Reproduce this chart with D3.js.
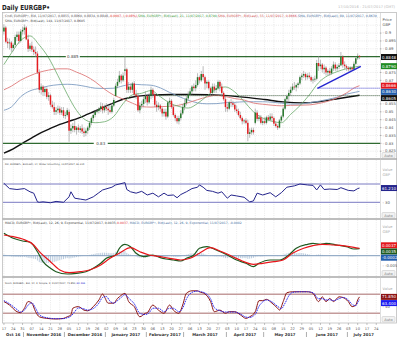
<!DOCTYPE html>
<html>
<head>
<meta charset="utf-8">
<script src="https://cdn.jsdelivr.net/npm/d3@7"></script>
<style>
  body { margin: 0; background: #fff; }
  svg { display: block; font-family: "DejaVu Sans", "Liberation Sans", sans-serif; }
</style>
</head>
<body>
<svg id="chart" width="397" height="341"></svg>
<script>
// ---------- Daily EURGBP candles, 17 Oct 2016 – 11 Jul 2017 (one entry per trading day) ----------
const opens = [
0.9010,0.9035,0.8945,0.8935,0.8940, 0.8905,0.8925,0.8975,0.8990,0.8950, 0.9010,0.9020,0.9035,0.8960,0.8900,
0.8920,0.8895,0.8880,0.8870,0.8750, 0.8640,0.8660,0.8625,0.8645,0.8595, 0.8605,0.8545,0.8530,0.8500,0.8510,
0.8520,0.8495,0.8510,0.8475,0.8480, 0.8500,0.8380,0.8395,0.8410,0.8385, 0.8400,0.8385,0.8395,0.8375,0.8365,
0.8380,0.8400,0.8430,0.8460,0.8480, 0.8500,0.8505,0.8520,0.8535,0.8510, 0.8530,0.8520,0.8510,0.8500,0.8540,
0.8600,0.8665,0.8690,0.8730,0.8700, 0.8760,0.8770,0.8640,0.8660,0.8640, 0.8680,0.8610,0.8600,0.8510,0.8540,
0.8550,0.8580,0.8600,0.8560,0.8600, 0.8640,0.8610,0.8545,0.8530,0.8540, 0.8520,0.8490,0.8500,0.8470,0.8560,
0.8570,0.8530,0.8480,0.8460,0.8440, 0.8460,0.8490,0.8530,0.8555,0.8585, 0.8610,0.8630,0.8660,0.8650,0.8670,
0.8720,0.8700,0.8740,0.8720,0.8680, 0.8690,0.8650,0.8620,0.8660,0.8640, 0.8650,0.8690,0.8660,0.8620,0.8580,
0.8530,0.8520,0.8560,0.8555,0.8545, 0.8515,0.8505,0.8480,0.8460,0.8440, 0.8445,0.8430,0.8360,0.8370,0.8385,
0.8430,0.8495,0.8455,0.8465,0.8430, 0.8440,0.8430,0.8465,0.8450,0.8470, 0.8460,0.8425,0.8410,0.8400,0.8445,
0.8470,0.8520,0.8580,0.8600,0.8620, 0.8640,0.8660,0.8655,0.8670,0.8680, 0.8720,0.8730,0.8740,0.8720,0.8730,
0.8720,0.8700,0.8705,0.8710,0.8810, 0.8790,0.8800,0.8770,0.8780,0.8750, 0.8760,0.8745,0.8775,0.8800,0.8775,
0.8785,0.8795,0.8850,0.8800,0.8790, 0.8780,0.8770,0.8780,0.8770,0.8805, 0.8840,0.8855
];
const highs = [
0.9055,0.9045,0.8970,0.8965,0.8950, 0.8935,0.8990,0.9010,0.9010,0.9025, 0.9040,0.9055,0.9045,0.8990,0.8935,
0.8945,0.8915,0.8915,0.8885,0.8770, 0.8680,0.8670,0.8660,0.8655,0.8625, 0.8615,0.8570,0.8560,0.8530,0.8540,
0.8535,0.8530,0.8530,0.8500,0.8525, 0.8515,0.8420,0.8430,0.8450,0.8410, 0.8420,0.8410,0.8420,0.8400,0.8395,
0.8410,0.8440,0.8470,0.8490,0.8510, 0.8515,0.8530,0.8560,0.8555,0.8545, 0.8555,0.8545,0.8540,0.8555,0.8590,
0.8680,0.8710,0.8760,0.8740,0.8750, 0.8854,0.8780,0.8690,0.8680,0.8690, 0.8695,0.8640,0.8620,0.8560,0.8570,
0.8600,0.8630,0.8610,0.8620,0.8660, 0.8650,0.8620,0.8570,0.8560,0.8550, 0.8530,0.8520,0.8520,0.8570,0.8590,
0.8580,0.8545,0.8490,0.8475,0.8475, 0.8510,0.8550,0.8580,0.8600,0.8630, 0.8650,0.8670,0.8680,0.8700,0.8745,
0.8730,0.8760,0.8790,0.8730,0.8700, 0.8700,0.8660,0.8680,0.8680,0.8670, 0.8700,0.8700,0.8680,0.8630,0.8600,
0.8550,0.8570,0.8580,0.8570,0.8560, 0.8540,0.8520,0.8500,0.8470,0.8455, 0.8460,0.8450,0.8395,0.8400,0.8400,
0.8520,0.8510,0.8480,0.8480,0.8460, 0.8465,0.8475,0.8480,0.8490,0.8490, 0.8470,0.8440,0.8420,0.8455,0.8480,
0.8530,0.8590,0.8610,0.8640,0.8660, 0.8680,0.8690,0.8680,0.8690,0.8730, 0.8745,0.8760,0.8750,0.8745,0.8750,
0.8730,0.8720,0.8730,0.8830,0.8855, 0.8830,0.8810,0.8800,0.8790,0.8770, 0.8780,0.8790,0.8820,0.8815,0.8800,
0.8810,0.8880,0.8860,0.8820,0.8800, 0.8790,0.8790,0.8790,0.8820,0.8850, 0.8870,0.8860
];
const lows = [
0.8990,0.8935,0.8905,0.8895,0.8880, 0.8885,0.8910,0.8950,0.8930,0.8940, 0.8990,0.8990,0.8955,0.8880,0.8885,
0.8880,0.8860,0.8850,0.8740,0.8620, 0.8610,0.8600,0.8600,0.8580,0.8570, 0.8530,0.8520,0.8480,0.8480,0.8490,
0.8480,0.8480,0.8460,0.8455,0.8470, 0.8310,0.8360,0.8370,0.8370,0.8355, 0.8370,0.8365,0.8360,0.8340,0.8345,
0.8360,0.8385,0.8415,0.8440,0.8465, 0.8490,0.8490,0.8500,0.8490,0.8495, 0.8505,0.8480,0.8490,0.8490,0.8530,
0.8600,0.8650,0.8680,0.8680,0.8690, 0.8730,0.8620,0.8620,0.8620,0.8620, 0.8600,0.8580,0.8500,0.8490,0.8520,
0.8530,0.8555,0.8540,0.8550,0.8580, 0.8590,0.8530,0.8500,0.8510,0.8500, 0.8470,0.8470,0.8450,0.8460,0.8540,
0.8520,0.8470,0.8440,0.8425,0.8420, 0.8445,0.8480,0.8510,0.8540,0.8570, 0.8600,0.8610,0.8630,0.8630,0.8660,
0.8680,0.8690,0.8700,0.8640,0.8650, 0.8640,0.8600,0.8610,0.8620,0.8620, 0.8640,0.8630,0.8600,0.8570,0.8500,
0.8500,0.8510,0.8530,0.8530,0.8500, 0.8490,0.8470,0.8450,0.8420,0.8425, 0.8420,0.8313,0.8335,0.8355,0.8355,
0.8420,0.8440,0.8440,0.8420,0.8415, 0.8420,0.8420,0.8440,0.8440,0.8440, 0.8410,0.8400,0.8385,0.8395,0.8435,
0.8460,0.8510,0.8560,0.8570,0.8600, 0.8630,0.8640,0.8630,0.8650,0.8670, 0.8700,0.8715,0.8700,0.8705,0.8710,
0.8690,0.8680,0.8690,0.8700,0.8760, 0.8770,0.8750,0.8740,0.8730,0.8730, 0.8730,0.8735,0.8760,0.8760,0.8760,
0.8770,0.8790,0.8780,0.8770,0.8760, 0.8755,0.8755,0.8760,0.8765,0.8795, 0.8830,0.8834
];
const closes = [
0.9035,0.8945,0.8935,0.8940,0.8905, 0.8925,0.8975,0.8990,0.8950,0.9010, 0.9020,0.9035,0.8960,0.8900,0.8920,
0.8895,0.8880,0.8870,0.8750,0.8640, 0.8660,0.8625,0.8645,0.8595,0.8605, 0.8545,0.8530,0.8500,0.8510,0.8520,
0.8495,0.8510,0.8475,0.8480,0.8510, 0.8380,0.8395,0.8410,0.8385,0.8400, 0.8385,0.8395,0.8375,0.8365,0.8380,
0.8400,0.8430,0.8460,0.8480,0.8500, 0.8505,0.8520,0.8535,0.8510,0.8530, 0.8520,0.8510,0.8500,0.8540,0.8575,
0.8665,0.8690,0.8730,0.8700,0.8730, 0.8770,0.8640,0.8660,0.8640,0.8680, 0.8610,0.8600,0.8510,0.8540,0.8550,
0.8580,0.8600,0.8560,0.8600,0.8640, 0.8610,0.8545,0.8530,0.8540,0.8520, 0.8490,0.8500,0.8470,0.8560,0.8570,
0.8530,0.8480,0.8460,0.8440,0.8460, 0.8490,0.8530,0.8555,0.8585,0.8610, 0.8630,0.8660,0.8650,0.8670,0.8720,
0.8700,0.8740,0.8720,0.8680,0.8690, 0.8650,0.8620,0.8660,0.8640,0.8650, 0.8690,0.8660,0.8620,0.8580,0.8530,
0.8520,0.8560,0.8555,0.8545,0.8515, 0.8505,0.8480,0.8460,0.8440,0.8445, 0.8430,0.8360,0.8370,0.8385,0.8370,
0.8495,0.8455,0.8465,0.8430,0.8440, 0.8430,0.8465,0.8450,0.8470,0.8460, 0.8425,0.8410,0.8400,0.8445,0.8470,
0.8520,0.8580,0.8600,0.8620,0.8640, 0.8660,0.8655,0.8670,0.8680,0.8720, 0.8730,0.8740,0.8720,0.8730,0.8720,
0.8700,0.8705,0.8710,0.8810,0.8790, 0.8800,0.8770,0.8780,0.8750,0.8760, 0.8745,0.8775,0.8800,0.8775,0.8785,
0.8795,0.8850,0.8800,0.8790,0.8780, 0.8770,0.8780,0.8770,0.8805,0.8840, 0.8855,0.8848
];

// ---------- Moving averages, [trading-day index, value] ----------
const sma21 = [[0,.8800],[4,.8873],[9,.8953],[14,.8982],[19,.8924],[24,.8843],[29,.8730],[34,.8612],[39,.8509],[44,.8447],[49,.8431],[54,.8437],[59,.8471],[64,.8552],[69,.8608],[74,.8618],[79,.8635],[84,.8596],[89,.8556],[94,.8534],[99,.8524],[104,.8553],[109,.8600],[114,.8643],[119,.8658],[124,.8626],[129,.8566],[134,.8501],[139,.8461],[144,.8440],[149,.8431],[154,.8484],[159,.8539],[164,.8607],[169,.8685],[174,.8730],[179,.8755],[184,.8774],[189,.8786],[191,.8790]];
const sma55 = [[0,.8640],[4,.8663],[9,.8701],[14,.8729],[19,.8751],[24,.8765],[29,.8773],[34,.8773],[39,.8752],[44,.8727],[49,.8691],[54,.8644],[59,.8606],[64,.8581],[69,.8555],[74,.8533],[79,.8530],[84,.8533],[89,.8535],[94,.8542],[99,.8558],[104,.8577],[109,.8594],[114,.8605],[119,.8597],[124,.8584],[129,.8575],[134,.8556],[139,.8548],[144,.8542],[149,.8538],[154,.8541],[159,.8542],[164,.8544],[169,.8553],[174,.8567],[179,.8589],[184,.8620],[189,.8657],[191,.8666]];
const sma89 = [[0,.8510],[4,.8531],[9,.8596],[14,.8633],[19,.8649],[24,.8664],[29,.8672],[34,.8675],[39,.8671],[44,.8661],[49,.8650],[54,.8648],[59,.8650],[64,.8665],[69,.8675],[74,.8672],[79,.8669],[84,.8652],[89,.8623],[94,.8597],[99,.8574],[104,.8557],[109,.8551],[114,.8552],[119,.8558],[124,.8560],[129,.8564],[134,.8564],[139,.8564],[144,.8561],[149,.8555],[154,.8549],[159,.8549],[164,.8558],[169,.8567],[174,.8579],[179,.8593],[184,.8612],[189,.8625],[191,.8630]];
const sma144 = [[0,.8238],[5,.8265],[10,.8300],[15,.8335],[20,.8368],[25,.8395],[30,.8420],[35,.8440],[40,.8460],[45,.8485],[50,.8510],[55,.8538],[60,.8562],[65,.8583],[70,.8596],[75,.8603],[80,.8607],[90,.8610],[100,.8610],[110,.8608],[120,.8603],[130,.8592],[140,.8578],[150,.8563],[160,.8557],[170,.8565],[180,.8585],[191,.8605]];

// ---------- Drawn levels ----------
const levels = [{price: 0.885, label: "0.885", labelAt: 37}, {price: 0.83, label: "0.83", labelAt: 52}];
const trendLine = [[168.4, 0.8649], [191.7, 0.8788]];
const dottedLevels = [{from: 168.4, price: 0.865, color: "#3f3fd8"}, {from: 82, price: 0.8603, color: "#2f4f2f"}];

// ---------- RSI(14) ----------
const rsi = [[0,71.5],[3,60],[7,58],[11,60],[14,53],[16,50],[18,31],[19,30],[21,31],[25,29],[28,32],[32,30],[35,42],[36,53],[38,39],[41,37],[44,35],[48,42],[51,51],[53,57],[58,63],[60,68],[65,73],[66,58],[68,53],[71,50],[74,54],[77,46],[80,50],[83,42],[86,50],[88,45],[91,46],[93,40],[95,47],[98,53],[101,60],[104,63],[105,68],[107,63],[109,56],[112,54],[115,50],[117,53],[120,39],[122,46],[125,44],[129,41],[132,31],[134,33],[136,50],[139,46],[143,51],[146,42],[149,51],[152,63],[156,66],[159,70],[163,68],[166,67],[168,57],[170,68],[172,58],[175,59],[179,58],[181,62],[185,56],[188,55],[190,60],[191,61.21]];
const rsiLevels = [70, 30];

// ---------- MACD(12,26,9) ----------
const macdLine = [[0,.0112],[5,.0087],[10,.00735],[14,.0067],[18,.002],[21,-.003],[25,-.0063],[28,-.008],[34,-.00915],[39,-.0088],[44,-.008],[48,-.0063],[52,-.0038],[55,-.0013],[60,.00035],[62,.0037],[65,.0057],[68,.0045],[71,.0012],[75,-.0005],[80,.00035],[84,-.001],[87,-.00165],[91,-.00215],[95,-.00265],[98,-.0013],[102,.00035],[105,.0037],[109,.0045],[114,.00285],[120,.00035],[125,-.00215],[130,-.0038],[134,-.0055],[137,-.0038],[143,-.00215],[148,-.00215],[153,.00035],[157,.0037],[163,.0057],[166,.0062],[170,.0057],[173,.0062],[179,.00535],[184,.0045],[188,.00335],[191,.0035]];
const signalLine = [[0,.01035],[5,.0095],[10,.00835],[16,.00535],[19,.002],[25,-.003],[30,-.00715],[35,-.0085],[41,-.008],[46,-.00715],[52,-.00465],[57,-.0013],[62,.0012],[68,.004],[73,.002],[78,.00035],[84,-.0005],[89,-.0013],[95,-.00215],[100,-.0013],[105,.0012],[111,.004],[116,.00235],[123,-.0005],[128,-.00265],[134,-.0043],[139,-.0038],[145,-.003],[150,-.00215],[155,.0012],[161,.0037],[166,.005],[171,.0057],[177,.00535],[182,.005],[188,.0042],[191,.0037]];
// histogram, one bar per trading day, in units of 0.0001
const macdHist = [
6,4,1,-2,-4, -5,-6,-6,-7,-7, -6,-6,-8,-11,-12, -13,-15,-17,-24,-32, -35,-36,-36,-37,-36, -35,-33,-31,-28,-25,
-22,-19,-17,-14,-12, -14,-13,-11,-9,-7, -5,-3,-2,-1,0, 2,4,6,8,10, 12,13,14,15,15, 15,14,13,13,14,
17,19,21,22,22, 23,14,9,5,3, -1,-4,-9,-10,-10, -9,-8,-8,-6,-4, -4,-6,-7,-7,-7, -8,-8,-8,-4,-2,
-3,-5,-6,-7,-6, -4,-1,2,5,8, 10,12,12,12,14, 13,13,11,6,4, 1,-2,-2,-3,-4, -3,-4,-6,-9,-12,
-12,-10,-9,-8,-9, -10,-11,-12,-13,-12, -12,-16,-15,-13,-11, -5,-4,-3,-4,-3, -2,-1,0,1,1, 0,-1,-2,0,2,
5,9,12,14,15, 15,14,13,13,14, 13,12,10,8,6, 4,2,1,5,6, 6,4,3,1,0, -1,0,1,0,0,
0,3,2,0,-1, -3,-4,-5,-4,-3, -2,-2
];

// ---------- Stochastic(14,3,3) ----------
const stochK = [[0,57],[3,46],[7,25],[9,22],[11,36],[13,57],[15,52],[17,25],[19,9],[23,4],[28,2],[32,4],[34,9],[36,15],[37,36],[40,41],[43,30],[45,28],[48,41],[51,62],[53,81],[54,72],[56,52],[59,52],[61,67],[62,72],[65,83],[67,57],[70,41],[73,9],[76,20],[77,22],[80,46],[83,30],[86,20],[89,46],[91,30],[94,20],[96,46],[98,83],[101,91],[104,91],[105,88],[108,81],[111,57],[113,25],[116,30],[119,20],[121,25],[124,25],[127,15],[130,4],[132,9],[135,25],[137,60],[139,60],[141,64],[144,52],[147,36],[148,30],[150,57],[152,85],[155,88],[159,88],[163,88],[166,83],[169,57],[171,72],[173,57],[175,67],[177,57],[180,72],[182,70],[185,57],[187,41],[189,46],[190,62],[191,71.85]];
const stochD = [[0,60],[3,50],[7,32],[9,24],[11,30],[13,46],[15,53],[17,36],[19,15],[23,6],[28,3],[32,3],[34,6],[36,11],[38,25],[40,37],[43,34],[45,30],[48,35],[51,52],[53,70],[55,73],[57,58],[59,52],[61,60],[63,70],[65,79],[67,68],[70,50],[73,20],[76,16],[78,22],[80,36],[83,36],[86,25],[89,36],[91,36],[94,25],[96,36],[98,65],[101,86],[104,90],[106,88],[108,84],[111,66],[113,38],[116,28],[119,24],[121,24],[124,24],[127,18],[130,8],[132,7],[135,17],[137,42],[139,56],[141,62],[144,56],[147,42],[149,35],[151,52],[153,75],[155,86],[159,88],[163,88],[166,85],[169,66],[171,66],[173,62],[175,63],[177,60],[180,66],[182,70],[185,62],[187,48],[189,44],[190,54],[191,63.4]];
const stochLevels = [80, 20];

// ---------- Axis labels ----------
const dayTicks = ["17","24","31","07","14","21","28","05","12","19","26","02","09","16","23","30","06","13","20","27","06","13","20","27","03","10","17","24","01","08","15","22","29","05","12","19","26","03","10","17","24"];
const monthNames = ["Oct 16","November 2016","December 2016","January 2017","February 2017","March 2017","April 2017","May 2017","June 2017","July 2017"];
const monthStarts = [0, 11, 33, 55, 77, 97, 120, 140, 163, 185];
const priceTicks = [0.9, 0.895, 0.89, 0.875, 0.87, 0.855, 0.85, 0.845, 0.84, 0.835, 0.83, 0.825];

// ---------- Layout ----------
const W = 397, H = 341;
const L = 3, R = 380;
const P = {
  price: {top: 13, bottom: 158},
  rsi:   {top: 160, bottom: 218},
  macd:  {top: 220, bottom: 276},
  stoch: {top: 278, bottom: 322}
};
const lastIdx = closes.length - 1;

const svg = d3.select("#chart");
svg.append("rect").attr("width", W).attr("height", H).attr("fill", "#fff");

const x = d3.scaleLinear().domain([-0.5, 202]).range([L, R]);
const yP = d3.scaleLinear().domain([0.82068, 0.91275]).range([P.price.bottom, P.price.top]);
const yR = d3.scaleLinear().domain([-4.3, 122.5]).range([P.rsi.bottom, P.rsi.top]);
const yM = d3.scaleLinear().domain([-0.01015, 0.01785]).range([P.macd.bottom, P.macd.top]);
const yS = d3.scaleLinear().domain([-7.5, 131.5]).range([P.stoch.bottom, P.stoch.top]);

const defs = svg.append("defs");
Object.entries(P).forEach(([k, p]) => {
  defs.append("clipPath").attr("id", "clip-" + k)
    .append("rect").attr("x", L).attr("y", p.top).attr("width", R - L).attr("height", p.bottom - p.top);
});

// title + period
svg.append("text").attr("x", 2).attr("y", 9.5).attr("font-size", 7).attr("font-weight", "bold")
  .attr("fill", "#222").attr("textLength", 48).attr("lengthAdjust", "spacingAndGlyphs").text("Daily EURGBP•");
svg.append("text").attr("x", 395).attr("y", 8).attr("font-size", 3.6).attr("text-anchor", "end")
  .attr("fill", "#b8b8b8").text("17/10/2016 - 21/07/2017 (GMT)");

// panel grid
const weekIdx = d3.range(0, 201, 5);
Object.entries(P).forEach(([k, p]) => {
  const g = svg.append("g").attr("clip-path", `url(#clip-${k})`);
  g.selectAll("line.vg").data(weekIdx).join("line")
    .attr("x1", d => x(d)).attr("x2", d => x(d)).attr("y1", p.top).attr("y2", p.bottom)
    .attr("stroke", "#d4d4d4").attr("stroke-width", 0.5).attr("stroke-dasharray", "1,1.2");
});
svg.append("g").selectAll("line").data(d3.range(0.825, 0.9101, 0.005)).join("line")
  .attr("x1", L).attr("x2", R).attr("y1", d => yP(d)).attr("y2", d => yP(d))
  .attr("stroke", "#d4d4d4").attr("stroke-width", 0.5).attr("stroke-dasharray", "1,1.2");

// ---------- price panel ----------
const gp = svg.append("g").attr("clip-path", "url(#clip-price)");
const ln = (ys) => d3.line().x(d => x(d[0])).y(d => ys(d[1])).curve(d3.curveMonotoneX);

gp.append("path").datum(sma144).attr("d", ln(yP)).attr("fill", "none").attr("stroke", "#111").attr("stroke-width", 1.4);
gp.append("path").datum(sma89).attr("d", ln(yP)).attr("fill", "none").attr("stroke", "#7f9dc2").attr("stroke-width", 0.9);
gp.append("path").datum(sma55).attr("d", ln(yP)).attr("fill", "none").attr("stroke", "#df7b7b").attr("stroke-width", 0.9);
gp.append("path").datum(sma21).attr("d", ln(yP)).attr("fill", "none").attr("stroke", "#6aaa6a").attr("stroke-width", 0.8);

dottedLevels.forEach(d => {
  gp.append("line").attr("x1", x(d.from)).attr("x2", R).attr("y1", yP(d.price)).attr("y2", yP(d.price))
    .attr("stroke", d.color).attr("stroke-width", 0.9).attr("stroke-dasharray", "1,1");
});

levels.forEach(d => {
  gp.append("line").attr("x1", L).attr("x2", R).attr("y1", yP(d.price)).attr("y2", yP(d.price))
    .attr("stroke", "#2f6b31").attr("stroke-width", 1.3);
  const lx = x(d.labelAt);
  gp.append("rect").attr("x", lx - 7).attr("y", yP(d.price) - 2.5).attr("width", 14).attr("height", 5).attr("fill", "#fff");
  gp.append("text").attr("x", lx).attr("y", yP(d.price) + 1.4).attr("font-size", 4).attr("text-anchor", "middle")
    .attr("fill", "#444").text(d.label);
});

const idx = d3.range(closes.length);
gp.selectAll("line.wick").data(idx).join("line")
  .attr("x1", i => x(i)).attr("x2", i => x(i)).attr("y1", i => yP(highs[i])).attr("y2", i => yP(lows[i]))
  .attr("stroke", "#8e8e8e").attr("stroke-width", 0.6);
gp.selectAll("rect.body").data(idx).join("rect")
  .attr("x", i => x(i) - 0.75).attr("width", 1.5)
  .attr("y", i => yP(Math.max(opens[i], closes[i])))
  .attr("height", i => Math.max(0.6, Math.abs(yP(opens[i]) - yP(closes[i]))))
  .attr("fill", i => closes[i] >= opens[i] ? "#25772a" : "#e51c20");

gp.append("path").datum(trendLine).attr("d", d3.line().x(d => x(d[0])).y(d => yP(d[1])))
  .attr("stroke", "#2424d0").attr("stroke-width", 1.4).attr("fill", "none");

// panel headers: coloured segments laid end to end, sized to the given width
function header(y, parts, len) {
  const base = 10;
  const probes = parts.map(p => svg.append("text").attr("font-size", base).text(p[0]));
  const widths = probes.map(t => t.node().getComputedTextLength());
  probes.forEach(t => t.remove());
  const k = len / d3.sum(widths);
  let cx = 5;
  parts.forEach((p, j) => {
    svg.append("text").attr("x", cx).attr("y", y).attr("font-size", base * k).attr("fill", p[1]).text(p[0]);
    cx += widths[j] * k;
  });
}
header(17, [["Cndl, EURGBP•, Bid, 11/07/2017, 0.8855, 0.8860, 0.8834, 0.8848,", "#555"], [" -0.0007, (-0.08%),", "#e03030"],
  [" SMA, EURGBP•, Bid(Last), 21, 11/07/2017, 0.8790,", "#3a9a3a"], [" SMA, EURGBP•, Bid(Last), 55, 11/07/2017, 0.8666,", "#d05050"],
  [" SMA, EURGBP•, Bid(Last), 89, 11/07/2017, 0.8630", "#4a70a0"]], 372);
header(22, [["SMA, EURGBP•, Bid(Last), 144, 11/07/2017, 0.8605", "#444"]], 80);

// ---------- RSI ----------
const gr = svg.append("g").attr("clip-path", "url(#clip-rsi)");
rsiLevels.forEach(v => gr.append("line").attr("x1", L).attr("x2", R).attr("y1", yR(v)).attr("y2", yR(v))
  .attr("stroke", "#6b6bbb").attr("stroke-width", 0.9));
gr.append("path").datum(rsi).attr("d", d3.line().x(d => x(d[0])).y(d => yR(d[1])))
  .attr("fill", "none").attr("stroke", "#25258c").attr("stroke-width", 1);
header(165, [["RSI, EURGBP•, Bid(Last), 14, Wilder Smoothing, 11/07/2017, 61.210", "#444"]], 80);

// ---------- MACD ----------
const gm = svg.append("g").attr("clip-path", "url(#clip-macd)");
gm.selectAll("line.h").data(idx).join("line")
  .attr("x1", i => x(i)).attr("x2", i => x(i)).attr("y1", yM(0)).attr("y2", i => yM(macdHist[i] / 10000))
  .attr("stroke", "#a9bfd6").attr("stroke-width", 0.8);
gm.append("line").attr("x1", L).attr("x2", R).attr("y1", yM(0)).attr("y2", yM(0)).attr("stroke", "#7f9cbc").attr("stroke-width", 1);
gm.append("path").datum(macdLine).attr("d", ln(yM)).attr("fill", "none").attr("stroke", "#1e5a20").attr("stroke-width", 1.2);
gm.append("path").datum(signalLine).attr("d", ln(yM)).attr("fill", "none").attr("stroke", "#e8151b").attr("stroke-width", 1.2);
header(224, [["MACD, EURGBP•, Bid(Last), 12, 26, 9, Exponential, 11/07/2017, 0.0035,", "#444"], [" 0.0037", "#e03030"],
  [", MACD, EURGBP•, Bid(Last), 12, 26, 9, Exponential, 11/07/2017, -0.0002", "#4a70a0"]], 237);

// ---------- Stochastic ----------
const gs = svg.append("g").attr("clip-path", "url(#clip-stoch)");
stochLevels.forEach(v => gs.append("line").attr("x1", L).attr("x2", R).attr("y1", yS(v)).attr("y2", yS(v))
  .attr("stroke", "#c49b9b").attr("stroke-width", 1.4));
gs.append("path").datum(stochK).attr("d", ln(yS)).attr("fill", "none").attr("stroke", "#8c1414").attr("stroke-width", 1);
gs.append("path").datum(stochD).attr("d", ln(yS)).attr("fill", "none").attr("stroke", "#1c1cf0").attr("stroke-width", 0.9)
  .attr("stroke-dasharray", "1.6,0.8");
header(283.5, [["Stoch, EURGBP•, Bid, 14, 3, Simple, 3, 11/07/2017, 71.850,", "#444"], [" 63.396", "#3030d0"]], 80);

// ---------- frames ----------
svg.append("rect").attr("x", 2.5).attr("y", 12.5).attr("width", 394).attr("height", 310.5)
  .attr("fill", "none").attr("stroke", "#bdbdbd").attr("stroke-width", 0.8);
[159, 219, 277].forEach(y => svg.append("line").attr("x1", 2.5).attr("x2", 397).attr("y1", y).attr("y2", y)
  .attr("stroke", "#a8a8a8").attr("stroke-width", 1.6));
svg.append("line").attr("x1", R + 0.5).attr("x2", R + 0.5).attr("y1", 12.5).attr("y2", 323).attr("stroke", "#c8c8c8").attr("stroke-width", 0.6);

// ---------- right axis ----------
const ax = R + 2.5;
function axText(y, t, size = 3.8, color = "#555") {
  svg.append("text").attr("x", ax).attr("y", y).attr("font-size", size).attr("fill", color).text(t);
}
axText(21, "Price"); axText(26, "GBP");
priceTicks.forEach(v => {
  svg.append("line").attr("x1", R).attr("x2", R + 1.5).attr("y1", yP(v)).attr("y2", yP(v)).attr("stroke", "#777").attr("stroke-width", 0.5);
  axText(yP(v) + 1.3, "- " + v);
});
function boxes(list) {
  list.sort((a, b) => a.y - b.y);
  for (let i = 1; i < list.length; i++) if (list[i].y - list[i - 1].y < 6.2) list[i].y = list[i - 1].y + 6.2;
  list.forEach(b => {
    svg.append("rect").attr("x", R + 1).attr("y", b.y - 3).attr("width", W - R - 1).attr("height", 6).attr("fill", b.bg);
    svg.append("text").attr("x", R + 2).attr("y", b.y + 1.5).attr("font-size", 4).attr("fill", "#fff").text(b.t);
  });
}
boxes([
  {y: yP(closes[lastIdx]), t: closes[lastIdx].toFixed(4), bg: "#111"},
  {y: yP(sma21[sma21.length - 1][1]), t: sma21[sma21.length - 1][1].toFixed(4), bg: "#1f8a22"},
  {y: yP(sma55[sma55.length - 1][1]), t: sma55[sma55.length - 1][1].toFixed(4), bg: "#e3161c"},
  {y: yP(sma89[sma89.length - 1][1]), t: sma89[sma89.length - 1][1].toFixed(4), bg: "#245fae"},
  {y: yP(sma144[sma144.length - 1][1]), t: sma144[sma144.length - 1][1].toFixed(4), bg: "#111"}
]);
function auto(y) {
  svg.append("rect").attr("x", R + 2).attr("y", y - 3).attr("width", 13).attr("height", 5.5).attr("rx", 1)
    .attr("fill", "#f2f2f2").attr("stroke", "#c0c0c0").attr("stroke-width", 0.5);
  svg.append("text").attr("x", R + 8.5).attr("y", y + 1.2).attr("font-size", 3.6).attr("text-anchor", "middle").attr("fill", "#777").text("Auto");
}
auto(155.5); auto(215.5); auto(273.5); auto(319.5);

axText(171, "Value", 3.6, "#aaa"); axText(176, "GBP", 3.6, "#aaa");
axText(yR(30) + 1.3, "- 30");
boxes([{y: yR(rsi[rsi.length - 1][1]), t: rsi[rsi.length - 1][1].toFixed(3), bg: "#25258c"}]);

axText(228, "Value", 3.6, "#aaa"); axText(233, "GBP", 3.6, "#aaa");
axText(yM(-0.005) + 1.3, "- -0.005");
boxes([
  {y: yM(signalLine[signalLine.length - 1][1]) - 3, t: signalLine[signalLine.length - 1][1].toFixed(4), bg: "#e3161c"},
  {y: yM(macdLine[macdLine.length - 1][1]), t: macdLine[macdLine.length - 1][1].toFixed(4), bg: "#1e5a20"},
  {y: yM(macdHist[lastIdx] / 10000), t: (macdHist[lastIdx] / 10000).toFixed(4), bg: "#245fae"}
]);

axText(290, "Value", 3.6, "#aaa");
axText(yS(40) + 1.3, "- 40");
boxes([
  {y: yS(stochK[stochK.length - 1][1]), t: stochK[stochK.length - 1][1].toFixed(3), bg: "#8c1414"},
  {y: yS(stochD[stochD.length - 1][1]), t: stochD[stochD.length - 1][1].toFixed(3), bg: "#1c1cf0"}
]);

// ---------- date axis ----------
const gx = svg.append("g");
gx.selectAll("line").data(dayTicks).join("line")
  .attr("x1", (d, k) => x(k * 5)).attr("x2", (d, k) => x(k * 5)).attr("y1", 323).attr("y2", 325)
  .attr("stroke", "#888").attr("stroke-width", 0.5);
gx.selectAll("text.d").data(dayTicks).join("text")
  .attr("x", (d, k) => x(k * 5)).attr("y", 329.5).attr("font-size", 3.6).attr("text-anchor", "middle").attr("fill", "#555").text(d => d);
monthNames.forEach((m, k) => {
  const a = k === 0 ? x.domain()[0] : monthStarts[k] - 0.5;
  const b = k === monthNames.length - 1 ? x.domain()[1] : monthStarts[k + 1] - 0.5;
  gx.append("text").attr("x", (x(a) + x(b)) / 2).attr("y", 336).attr("font-size", 3.9).attr("font-weight", "bold")
    .attr("text-anchor", "middle").attr("fill", "#333").text(m);
  if (k > 0) gx.append("line").attr("x1", x(a)).attr("x2", x(a)).attr("y1", 332).attr("y2", 337).attr("stroke", "#777").attr("stroke-width", 0.6);
});
</script>
</body>
</html>
